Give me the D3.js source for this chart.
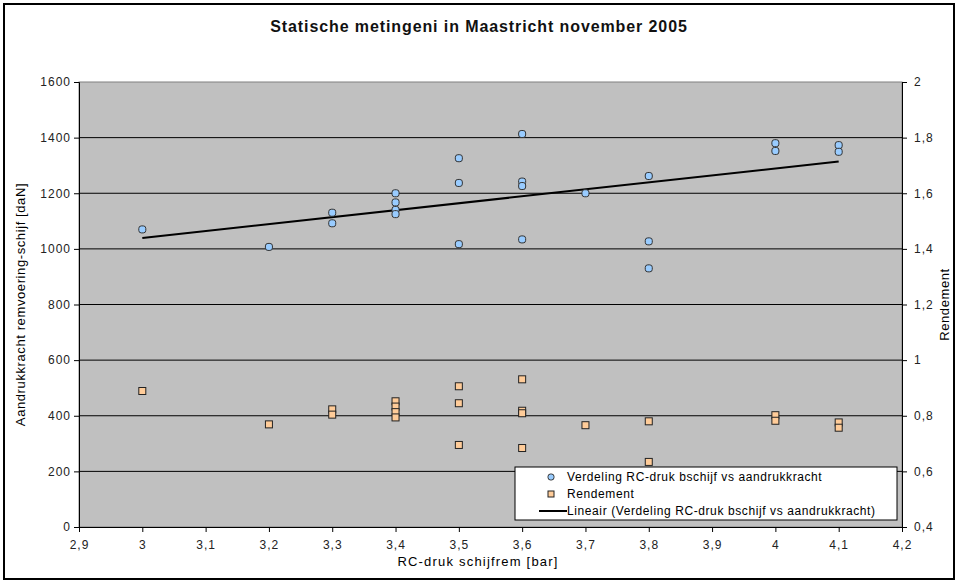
<!DOCTYPE html>
<html>
<head>
<meta charset="utf-8">
<script src="https://cdn.jsdelivr.net/npm/d3@7"></script>
<style>
  body { margin: 0; background: #fff; }
  text { font-family: "Liberation Sans", Arial, sans-serif; }
</style>
</head>
<body>
<div id="chart"></div>
<script>
// RC-druk (bar) vs aandrukkracht (daN)
const pressure = [3.0, 3.2, 3.3, 3.3, 3.4, 3.4, 3.4, 3.4, 3.5, 3.5, 3.5, 3.6, 3.6, 3.6, 3.6, 3.7, 3.8, 3.8, 3.8, 4.0, 4.0, 4.1, 4.1];
const force = [1070, 1007, 1130, 1092, 1200, 1167, 1140, 1125, 1326, 1237, 1017, 1413, 1242, 1226, 1034, 1200, 1262, 1027, 930, 1380, 1352, 1373, 1349];

// RC-druk vs rendement
const rendPressure = [3.0, 3.2, 3.3, 3.3, 3.4, 3.4, 3.4, 3.4, 3.5, 3.5, 3.5, 3.6, 3.6, 3.6, 3.6, 3.7, 3.8, 3.8, 4.0, 4.0, 4.1, 4.1];
const rendement = [0.889, 0.769, 0.823, 0.804, 0.852, 0.833, 0.813, 0.794, 0.906, 0.845, 0.695, 0.931, 0.818, 0.809, 0.684, 0.766, 0.780, 0.634, 0.802, 0.782, 0.776, 0.757];

const xTicks = [2.9, 3.0, 3.1, 3.2, 3.3, 3.4, 3.5, 3.6, 3.7, 3.8, 3.9, 4.0, 4.1, 4.2];
const leftTicks = [0, 200, 400, 600, 800, 1000, 1200, 1400, 1600];
const rightTicks = [0.4, 0.6, 0.8, 1.0, 1.2, 1.4, 1.6, 1.8, 2.0];

const legendLabels = [
  "Verdeling RC-druk bschijf vs aandrukkracht",
  "Rendement",
  "Lineair (Verdeling RC-druk bschijf vs aandrukkracht)"
];

const W = 958, H = 583;
const margin = { top: 82, right: 56, bottom: 56, left: 79 };
const width = W - margin.left - margin.right;
const height = H - margin.top - margin.bottom;

const nl = d3.formatLocale({ decimal: ",", thousands: ".", grouping: [3], currency: ["", ""] });
const fmt = nl.format("~g");

const svg = d3.select("#chart").append("svg")
  .attr("width", W)
  .attr("height", H);

// outer frame
svg.append("rect")
  .attr("x", 4).attr("y", 4)
  .attr("width", W - 8).attr("height", H - 8)
  .attr("fill", "#fff")
  .attr("stroke", "#000")
  .attr("stroke-width", 2);

svg.append("text")
  .attr("x", W / 2)
  .attr("y", 32)
  .attr("text-anchor", "middle")
  .attr("font-size", 16)
  .attr("font-weight", "bold")
  .attr("letter-spacing", 0.9)
  .attr("fill", "#111")
  .text("Statische metingeni in Maastricht november 2005");

const g = svg.append("g")
  .attr("transform", `translate(${margin.left}, ${margin.top})`);

const x = d3.scaleLinear().domain([2.9, 4.2]).range([0, width]);
const y = d3.scaleLinear().domain([0, 1600]).range([height, 0]);
const y2 = d3.scaleLinear().domain([0.4, 2]).range([height, 0]);

g.append("rect")
  .attr("width", width)
  .attr("height", height)
  .attr("fill", "#c0c0c0")
  .attr("stroke", "#808080");

// gridlines
g.selectAll(".grid")
  .data(leftTicks.slice(1, -1))
  .join("line")
  .attr("class", "grid")
  .attr("x1", 0).attr("x2", width)
  .attr("y1", d => y(d)).attr("y2", d => y(d))
  .attr("stroke", "#000")
  .attr("stroke-width", 1);

const xAxis = d3.axisBottom(x).tickValues(xTicks).tickFormat(fmt).tickSize(5).tickPadding(8);
const yAxis = d3.axisLeft(y).tickValues(leftTicks).tickFormat(fmt).tickSize(5).tickPadding(3);
const y2Axis = d3.axisRight(y2).tickValues(rightTicks).tickFormat(fmt).tickSize(5).tickPadding(7);

function styleAxis(sel) {
  sel.selectAll("path").attr("stroke", "#000");
  sel.selectAll("line").attr("stroke", "#000");
  sel.selectAll("text")
    .attr("font-size", 12)
    .attr("letter-spacing", 1)
    .attr("fill", "#222")
    .style("font-family", "'Liberation Sans', Arial, sans-serif");
}

g.append("g")
  .attr("class", "x axis")
  .attr("transform", `translate(0, ${height})`)
  .call(xAxis)
  .call(styleAxis);

g.append("g")
  .attr("class", "y axis")
  .call(yAxis)
  .call(styleAxis);

g.append("g")
  .attr("class", "y2 axis")
  .attr("transform", `translate(${width}, 0)`)
  .call(y2Axis)
  .call(styleAxis);

// axis titles
svg.append("text")
  .attr("x", 478)
  .attr("y", 566)
  .attr("text-anchor", "middle")
  .attr("font-size", 13)
  .attr("letter-spacing", 1.2)
  .text("RC-druk schijfrem [bar]");

svg.append("text")
  .attr("transform", `translate(25, ${margin.top + height / 2}) rotate(-90)`)
  .attr("text-anchor", "middle")
  .attr("font-size", 13)
  .attr("letter-spacing", 0.6)
  .text("Aandrukkracht remvoering-schijf [daN]");

svg.append("text")
  .attr("transform", `translate(949, ${margin.top + height / 2}) rotate(-90)`)
  .attr("text-anchor", "middle")
  .attr("font-size", 13)
  .attr("letter-spacing", 0.6)
  .text("Rendement");

// linear trendline (least squares, like Excel's "Lineair")
const mx = d3.mean(pressure), my = d3.mean(force);
const sxy = d3.sum(pressure, (p, i) => (p - mx) * (force[i] - my));
const sxx = d3.sum(pressure, p => (p - mx) * (p - mx));
const slope = sxy / sxx;
const intercept = my - slope * mx;
const trendX = d3.extent(pressure);

g.append("line")
  .attr("x1", x(trendX[0])).attr("y1", y(intercept + slope * trendX[0]))
  .attr("x2", x(trendX[1])).attr("y2", y(intercept + slope * trendX[1]))
  .attr("stroke", "#000")
  .attr("stroke-width", 2);

// rendement squares
g.selectAll(".rend")
  .data(rendement)
  .join("rect")
  .attr("class", "rend")
  .attr("x", (d, i) => x(rendPressure[i]) - 3.5)
  .attr("y", d => y2(d) - 3.5)
  .attr("width", 7).attr("height", 7)
  .attr("fill", "#ffcc99")
  .attr("stroke", "#222")
  .attr("stroke-width", 1);

// force points
g.selectAll(".force")
  .data(force)
  .join("rect")
  .attr("class", "force")
  .attr("x", (d, i) => x(pressure[i]) - 3.5)
  .attr("y", d => y(d) - 3.5)
  .attr("width", 7).attr("height", 7)
  .attr("rx", 2.5).attr("ry", 2.5)
  .attr("fill", "#99ccff")
  .attr("stroke", "#333")
  .attr("stroke-width", 1);

// legend
const lg = svg.append("g").attr("transform", "translate(515, 467)");
lg.append("rect")
  .attr("width", 382).attr("height", 53)
  .attr("fill", "#fff")
  .attr("stroke", "#000");

const rowY = [10, 27, 44];
lg.append("rect")
  .attr("x", 33).attr("y", rowY[0] - 3)
  .attr("width", 6).attr("height", 6)
  .attr("rx", 2.5).attr("ry", 2.5)
  .attr("fill", "#99ccff").attr("stroke", "#333");
lg.append("rect")
  .attr("x", 33).attr("y", rowY[1] - 3)
  .attr("width", 6).attr("height", 6)
  .attr("fill", "#ffcc99").attr("stroke", "#222");
lg.append("line")
  .attr("x1", 24).attr("x2", 52)
  .attr("y1", rowY[2]).attr("y2", rowY[2])
  .attr("stroke", "#000").attr("stroke-width", 2);

lg.selectAll(".lgtext")
  .data(legendLabels)
  .join("text")
  .attr("class", "lgtext")
  .attr("x", 52)
  .attr("y", (d, i) => rowY[i] + 4)
  .attr("font-size", 12)
  .attr("letter-spacing", 0.6)
  .text(d => d);
</script>
</body>
</html>
